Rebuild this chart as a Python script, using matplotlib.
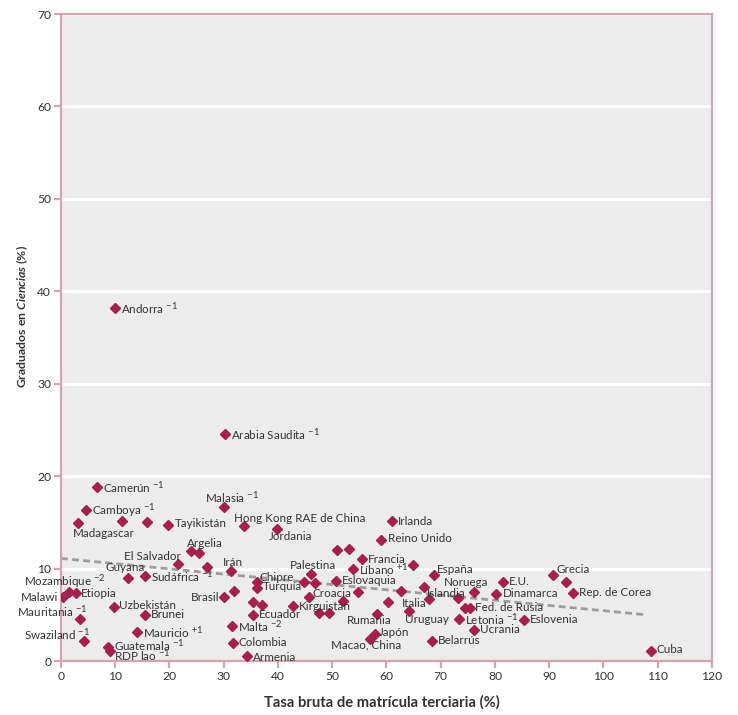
import matplotlib
matplotlib.use("Agg")
import matplotlib.pyplot as plt
try:
    import matplotlib._mathtext as _mt
    _mt.SHRINK_FACTOR = 0.8
except Exception:
    pass

plt.rcParams['font.family'] = ['Lato', 'DejaVu Sans']
plt.rcParams['mathtext.fontset'] = 'custom'
plt.rcParams['mathtext.rm'] = 'Lato'
plt.rcParams['mathtext.it'] = 'Lato:italic:bold'
plt.rcParams['mathtext.bf'] = 'Lato:bold'

M1 = r"$^{-1}$"
M2 = r"$^{-2}$"
P1 = r"$^{+1}$"

# ---------------- data ----------------
countries = [
    "Andorra " + M1, "Arabia Saudita " + M1, "Camerún " + M1, "Camboya " + M1, "Madagascar",
    "", "", "Tayikistán", "Malasia " + M1, "Hong Kong RAE de China", "Jordania",
    "Argelia", "", "El Salvador", "", "Irán", "Guyana", "Sudáfrica " + M1,
    "Mozambique " + M2, "Etiopia", "Malawi", "Uzbekistán", "Brunei", "Mauritania " + M1,
    "Swaziland " + M1, "Mauricio " + P1, "Guatemala " + M1, "RDP lao " + M1, "Chipre", "Turquía",
    "Brasil", "", "", "", "Ecuador", "Malta " + M2, "Colombia", "Armenia",
    "Kirguistán", "Palestina", "", "", "Eslovaquia", "Croacia", "", "", "",
    "Rumania", "Japón", "Macao, China", "Irlanda", "Reino Unido", "", "",
    "Francia", "", "Líbano " + P1, "España", "", "", "Islandia", "", "", "Noruega",
    "Italia", "Uruguay", "E.U.", "Dinamarca", "", "Fed. de Rusia", "Letonia " + M1,
    "Ucrania", "Belarrús", "Eslovenia", "Grecia", "", "Rep. de Corea", "Cuba",
]
enrolment = [
    10.0, 30.2, 6.7, 4.6, 3.1,
    11.3, 15.9, 19.8, 30.1, 33.8, 39.9,
    24.0, 25.4, 21.6, 26.9, 31.3, 12.4, 15.4,
    1.5, 2.8, 0.4, 9.8, 15.4, 3.5,
    4.2, 14.0, 8.6, 9.0, 36.2, 36.2,
    30.0, 31.9, 35.4, 37.1, 35.3, 31.5, 31.7, 34.2,
    42.7, 46.1, 44.8, 46.9, 50.7, 45.7, 51.9, 47.6, 49.4,
    58.2, 57.9, 56.9, 61.0, 59.0, 50.9, 53.1,
    55.5, 64.9, 53.9, 68.8, 54.7, 62.7, 66.9, 67.9, 73.2, 76.1,
    60.2, 64.1, 81.5, 80.2, 74.5, 75.4, 73.4,
    76.2, 68.4, 85.3, 90.7, 93.0, 94.4, 108.7,
]
science_grads = [
    38.2, 24.6, 18.8, 16.3, 14.9,
    15.1, 15.0, 14.7, 16.7, 14.6, 14.3,
    11.9, 11.7, 10.5, 10.2, 9.7, 9.0, 9.2,
    7.5, 7.4, 6.9, 5.8, 5.0, 4.5,
    2.2, 3.1, 1.5, 1.1, 8.6, 7.9,
    6.9, 7.6, 6.4, 6.1, 5.0, 3.8, 2.0, 0.5,
    5.9, 9.4, 8.6, 8.4, 8.7, 6.9, 6.5, 5.2, 5.2,
    5.1, 2.9, 2.4, 15.1, 13.1, 12.0, 12.1,
    11.0, 10.4, 9.9, 9.3, 7.5, 7.6, 8.0, 6.7, 6.8, 7.5,
    6.4, 5.4, 8.6, 7.2, 5.7, 5.7, 4.5,
    3.4, 2.2, 4.4, 9.3, 8.6, 7.4, 1.1,
]
trend_x = [0.0, 107.8]
trend_y = [11.1, 5.0]
x_ticks = list(range(0, 121, 10))
y_ticks = list(range(0, 71, 10))
x_title = "Tasa bruta de matrícula terciaria (%)"
y_title = r"Graduados en $\mathit{Ciencias}$ (%)"

# ---------------- label layout (pixel offsets from marker: dx, dy-down, ha) ----------------
label_layout = {
    "Madagascar": (-5, 10, "left"),
    "Tayikistán": (6.5, -2, "left"),
    "Malasia " + M1: (-19, -10, "left"),
    "Hong Kong RAE de China": (-10, -8, "left"),
    "Jordania": (-9, 8, "left"),
    "Argelia": (-4, -8, "left"),
    "El Salvador": (3, -7, "right"),
    "Irán": (-8, -9, "left"),
    "Guyana": (-23, -10, "left"),
    "Mozambique " + M2: (37, -11, "right"),
    "Etiopia": (5, 1, "left"),
    "Malawi": (-5, 0, "right"),
    "Uzbekistán": (5, -1.5, "left"),
    "Mauritania " + M1: (7, -8, "right"),
    "Swaziland " + M1: (6, -7, "right"),
    "Guatemala " + M1: (6, -2.4, "left"),
    "RDP lao " + M1: (4, 4, "left"),
    "Chipre": (2, -4.3, "left"),
    "Turquía": (5, -1, "left"),
    "Brasil": (-4.5, 0, "right"),
    "Armenia": (6, 1, "left"),
    "Palestina": (-21.7, -8.3, "left"),
    "Croacia": (4, -3.3, "left"),
    "Rumania": (-30, 6.7, "left"),
    "Japón": (4, -1.2, "left"),
    "Macao, China": (-38.8, 6.5, "left"),
    "Reino Unido": (6.7, -1, "left"),
    "España": (2.7, -6, "left"),
    "Islandia": (3, 6, "left"),
    "Noruega": (-30.4, -8.7, "left"),
    "Italia": (14, 1.6, "left"),
    "Uruguay": (-4, 8.3, "left"),
    "Dinamarca": (6.3, -1, "left"),
    "Fed. de Rusia": (5, -1, "left"),
    "Eslovenia": (6.3, -0.7, "left"),
    "Grecia": (3, -5.3, "left"),
    "Cuba": (6, -1, "left"),
}
default_layout = (6, 0, "left")

# ---------------- style ----------------
bg = "#ececec"
frame = "#d9a3ad"
marker_c = "#a51f4f"
text_c = "#333333"

fig = plt.figure(figsize=(7.38, 7.15), dpi=100)
ax = fig.add_axes([61 / 738, 1 - 661 / 715, 651 / 738, 647 / 715])
ax.set_facecolor(bg)
ax.set_xlim(0, 120)
ax.set_ylim(0, 70)
ax.set_xticks(x_ticks)
ax.set_yticks(y_ticks)
ax.yaxis.grid(True, color="white", lw=2.2, zorder=0)
ax.set_axisbelow(True)
for s in ax.spines.values():
    s.set_color(frame)
    s.set_linewidth(1.6)
ax.tick_params(direction="out", length=5, width=1.6, color=frame,
               labelsize=8.7, labelcolor=text_c, pad=2)

ax.plot(trend_x, trend_y, color="#9d9d9d", lw=2, ls=(0, (2.5, 1.5)), zorder=2)
ax.plot(enrolment, science_grads, ls="none", marker="D", ms=5.2,
        color=marker_c, mec=marker_c, zorder=3)

for name, xv, yv in zip(countries, enrolment, science_grads):
    if not name:
        continue
    dx, dy, ha = label_layout.get(name, default_layout)
    ax.annotate(name, (xv, yv), xytext=(dx, -dy), textcoords="offset pixels",
                ha=ha, va="center", fontsize=8.4, color=text_c, zorder=4)

ax.set_xlabel(x_title, fontsize=10.6, fontweight="bold", color=text_c)
ax.xaxis.set_label_coords(0.493, -0.053)
ax.set_ylabel(y_title, fontsize=8.8, fontweight="bold", color=text_c)
ax.yaxis.set_label_coords(-0.047, 0.533)

fig.savefig("out.png", dpi=100)
